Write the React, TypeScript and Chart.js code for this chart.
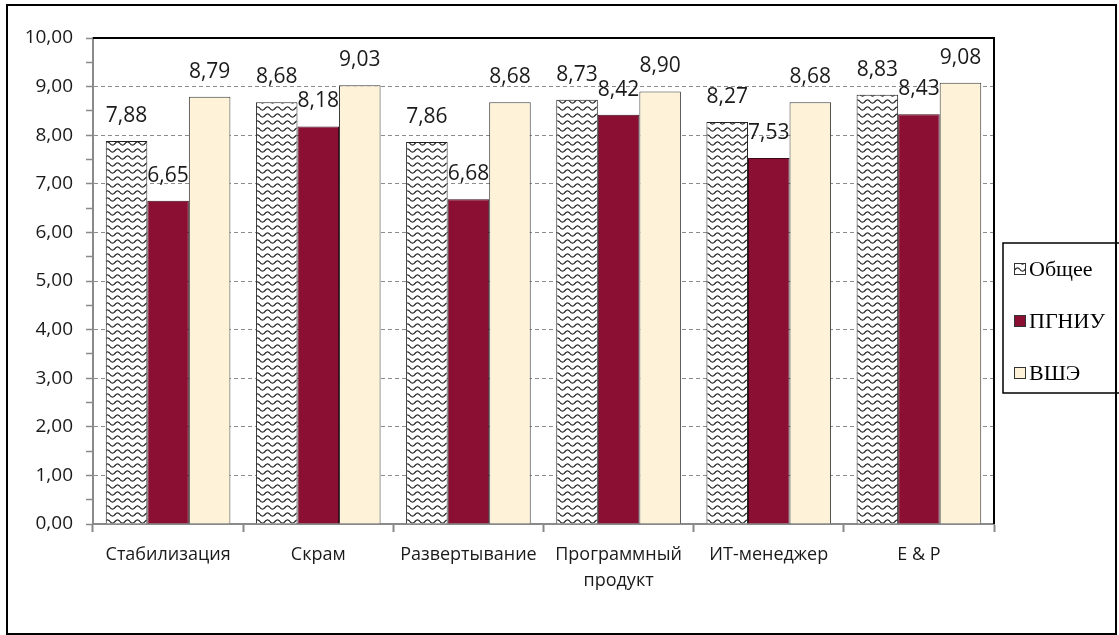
import React, { useEffect, useRef } from "react";
import { Chart, registerables } from "chart.js";

Chart.register(...registerables);

const categories: (string | string[])[] = [
  "Стабилизация",
  "Скрам",
  "Развертывание",
  ["Программный", "продукт"],
  "ИТ-менеджер",
  "E & P",
];
const seriesNames = ["Общее", "ПГНИУ", "ВШЭ"];
const obshee = [7.88, 8.68, 7.86, 8.73, 8.27, 8.83];
const pgniu = [6.65, 8.18, 6.68, 8.42, 7.53, 8.43];
const vshe = [8.79, 9.03, 8.68, 8.9, 8.68, 9.08];
const yMin = 0;
const yMax = 10;

const FONT = "'Open Sans', 'DejaVu Sans', sans-serif";

function makeWavePattern(): CanvasPattern | string {
  const c = document.createElement("canvas");
  c.width = 10;
  c.height = 7;
  const g = c.getContext("2d");
  if (!g) return "#fff";
  g.fillStyle = "#ffffff";
  g.fillRect(0, 0, 10, 7);
  g.strokeStyle = "#222";
  g.lineWidth = 1.2;
  g.beginPath();
  for (let x = 0; x <= 10; x += 0.5) {
    const y = 3.5 + 1.6 * Math.sin((x / 10) * Math.PI * 2);
    if (x === 0) g.moveTo(x, y);
    else g.lineTo(x, y);
  }
  g.stroke();
  const p = g.createPattern(c, "repeat");
  return p || "#fff";
}

const fmt = (v: number) => v.toFixed(2).replace(".", ",");

export default function App() {
  const ref = useRef<HTMLCanvasElement | null>(null);

  useEffect(() => {
    document.body.style.margin = "0";
    const canvas = ref.current;
    if (!canvas) return;
    const pattern = makeWavePattern();

    const labelsPlugin = {
      id: "valueLabels",
      afterDatasetsDraw(chart: any) {
        const ctx = chart.ctx;
        ctx.save();
        ctx.font = `21px ${FONT}`;
        ctx.fillStyle = "#1a1a1a";
        ctx.textAlign = "center";
        ctx.textBaseline = "middle";
        chart.data.datasets.forEach((ds: any, di: number) => {
          const meta = chart.getDatasetMeta(di);
          meta.data.forEach((el: any, i: number) => {
            ctx.fillText(fmt(ds.data[i]), el.x, el.y - 25);
          });
        });
        ctx.restore();
      },
    };

    const framePlugin = {
      id: "frame",
      afterDraw(chart: any) {
        const ctx = chart.ctx;
        const a = chart.chartArea;
        ctx.save();
        ctx.strokeStyle = "#000";
        ctx.lineWidth = 2;
        ctx.beginPath();
        ctx.moveTo(a.left, a.top);
        ctx.lineTo(a.right, a.top);
        ctx.lineTo(a.right, a.bottom);
        ctx.stroke();
        ctx.strokeRect(7, 5, 1109, 629);
        const lx = 1003;
        const ly = 243;
        ctx.lineWidth = 1.5;
        ctx.strokeRect(lx, ly, 140, 150);
        const ys = [269, 321, 373];
        ctx.font = "22px 'Liberation Serif', 'Times New Roman', serif";
        ctx.textBaseline = "middle";
        ctx.textAlign = "left";
        chart.data.datasets.forEach((ds: any, i: number) => {
          const y = ys[i];
          ctx.fillStyle = ds.backgroundColor;
          ctx.fillRect(1014, y - 6, 12, 12);
          ctx.strokeStyle = "#333";
          ctx.lineWidth = 1;
          ctx.strokeRect(1014.5, y - 5.5, 11, 11);
          ctx.fillStyle = "#000";
          ctx.fillText(ds.label, 1029, y + 1);
        });
        ctx.restore();
      },
    };

    const chart = new Chart(canvas, {
      type: "bar",
      data: {
        labels: categories,
        datasets: [
          {
            label: seriesNames[0],
            data: obshee,
            backgroundColor: pattern as any,
            borderColor: "#222",
            borderWidth: 1,
          },
          {
            label: seriesNames[1],
            data: pgniu,
            backgroundColor: "#8a0f33",
            borderColor: "#3a0a18",
            borderWidth: 1,
          },
          {
            label: seriesNames[2],
            data: vshe,
            backgroundColor: "#fef2d9",
            borderColor: "#3a3a3a",
            borderWidth: 1,
          },
        ],
      },
      options: {
        responsive: false,
        animation: false,
        devicePixelRatio: 1,
        layout: { padding: { left: 0, top: 38, right: 125, bottom: 0 } },
        datasets: {
          bar: { categoryPercentage: 0.83, barPercentage: 1 },
        },
        plugins: {
          legend: { display: false },
          tooltip: { enabled: false },
        },
        scales: {
          x: {
            afterFit(scale: any) {
              scale.height = 111;
            },
            grid: {
              offset: true,
              drawOnChartArea: false,
              drawTicks: true,
              tickLength: 8,
              tickColor: "#888",
              tickWidth: 2,
            },
            border: { color: "#8a8a8a", width: 2 },
            ticks: {
              color: "#1a1a1a",
              font: { family: FONT, size: 18, lineHeight: 1.45 },
              padding: 10,
              maxRotation: 0,
              autoSkip: false,
            },
          },
          y: {
            min: yMin,
            max: yMax,
            afterFit(scale: any) {
              scale.width = 93;
            },
            grid: {
              color: (c: any) =>
                c.tick && c.tick.value % 1 === 0 ? "#8c8c8c" : "rgba(0,0,0,0)",
              lineWidth: 1,
              drawTicks: true,
              tickLength: 7,
              tickColor: "#8a8a8a",
              tickWidth: 1.5,
              tickBorderDash: [],
            } as any,
            border: { color: "#8a8a8a", width: 2, dash: [4, 3] },
            ticks: {
              stepSize: 0.5,
              autoSkip: false,
              color: "#1a1a1a",
              font: { family: FONT, size: 19 },
              padding: 13,
              callback: (v: any) => (Number(v) % 1 === 0 ? fmt(Number(v)) : ""),
            },
          },
        },
      },
      plugins: [labelsPlugin, framePlugin],
    });

    return () => chart.destroy();
  }, []);

  return (
    <div style={{ position: "fixed", left: 0, top: 0, width: 1119, height: 635, background: "#fff" }}>
      <canvas ref={ref} width={1119} height={635} />
    </div>
  );
}
